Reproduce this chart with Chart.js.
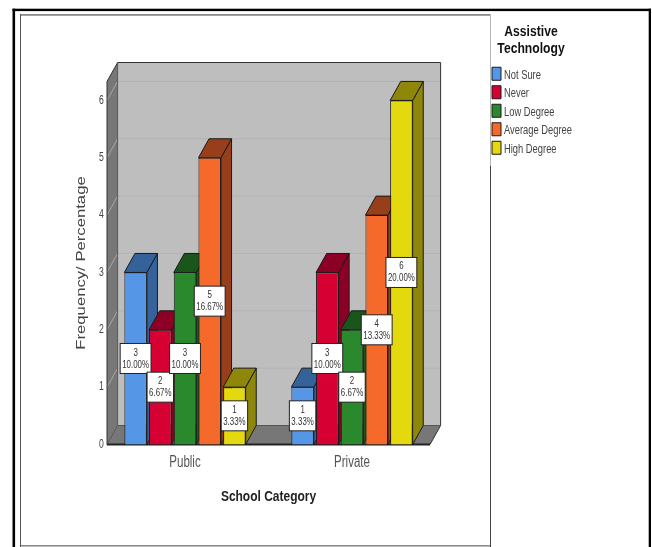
<!DOCTYPE html>
<html>
<head>
<meta charset="utf-8">
<style>html,body{margin:0;padding:0;background:#fff;overflow:hidden}canvas{display:block}</style>
<script src="https://cdn.jsdelivr.net/npm/chart.js@4"></script>
</head>
<body>
<canvas id="c" width="652" height="547"></canvas>
<script>
const categories = ['Public', 'Private'];
const seriesNames = ['Not Sure', 'Never', 'Low Degree', 'Average Degree', 'High Degree'];
const notSure = [3, 1];
const never = [2, 3];
const lowDegree = [3, 2];
const averageDegree = [5, 4];
const highDegree = [1, 6];
const notSurePct = ['10.00%', '3.33%'];
const neverPct = ['6.67%', '10.00%'];
const lowDegreePct = ['10.00%', '6.67%'];
const averageDegreePct = ['16.67%', '13.33%'];
const highDegreePct = ['3.33%', '20.00%'];
const frontColors = ['#5596E6', '#D70033', '#2A892D', '#F56A2A', '#E4D90F'];
const sideColors = ['#35629A', '#8B0024', '#1A551C', '#973F1A', '#8E870A'];
const yTicks = [0, 1, 2, 3, 4, 5, 6];
const yTitle = 'Frequency/ Percentage';
const xTitle = 'School Category';
const legendTitle = ['Assistive', 'Technology'];

const seriesValues = [notSure, never, lowDegree, averageDegree, highDegree];
const seriesPct = [notSurePct, neverPct, lowDegreePct, averageDegreePct, highDegreePct];
const FONT = '"Liberation Sans",sans-serif';
const DX = 10.6, DY = -19;
const WALL_L = 107, WALL_R = 430, WALL_TOP_VALUE = 6.33;
const NARROW = 0.72;

// The reference's text is squeezed horizontally: no condensed face is installed, so scale it.
const canvas = document.getElementById('c');
const rawCtx = canvas.getContext('2d');
const origFillText = rawCtx.fillText.bind(rawCtx);
rawCtx.fillText = function (text, x, y) {
  let k = NARROW;
  if (text === yTitle) k = 1.39;
  else if (text === xTitle) k = 0.856;
  else if (legendTitle.includes(text)) k = 0.81;
  if (seriesNames.includes(text)) { x -= 3.5; y += 1.5; }
  this.save();
  this.translate(x, y);
  this.scale(k, 1);
  origFillText(text, 0, 0);
  this.restore();
};

function poly(ctx, pts, fill, stroke, lw) {
  ctx.beginPath();
  pts.forEach((p, i) => i ? ctx.lineTo(p[0], p[1]) : ctx.moveTo(p[0], p[1]));
  ctx.closePath();
  if (fill) { ctx.fillStyle = fill; ctx.fill(); }
  if (stroke) { ctx.strokeStyle = stroke; ctx.lineWidth = lw || 1; ctx.stroke(); }
}

const frame = {
  id: 'frame',
  beforeDraw(chart) {
    const c = chart.ctx;
    c.save();
    c.fillStyle = '#fff'; c.fillRect(0, 0, 652, 547);
    c.fillStyle = '#000';
    c.fillRect(12.5, 8.7, 2.6, 538.3);
    c.fillRect(12.5, 8.7, 638.5, 2.4);
    c.fillRect(648.7, 8.7, 2.3, 538.3);
    c.fillStyle = '#8c8c8c';
    c.fillRect(20, 14, 471, 1.8);
    c.fillRect(20, 545, 471, 1.6);
    c.fillStyle = '#555';
    c.fillRect(20, 14, 1, 533);
    c.fillStyle = '#b4b4b4';
    c.fillRect(490, 14, 1, 152);
    c.fillStyle = '#444';
    c.fillRect(490, 166, 1, 381);
    c.restore();
  }
};

const bars3d = {
  id: 'bars3d',
  beforeDatasetsDraw(chart) {
    const c = chart.ctx, y = chart.scales.y;
    const y0 = y.getPixelForValue(0), yT = y.getPixelForValue(WALL_TOP_VALUE);
    c.save();
    poly(c, [[WALL_L + DX, y0 + DY], [WALL_R + DX, y0 + DY], [WALL_R + DX, yT + DY], [WALL_L + DX, yT + DY]], '#BEBEBE');
    poly(c, [[WALL_L, y0], [WALL_L + DX, y0 + DY], [WALL_L + DX, yT + DY], [WALL_L, yT]], '#777777');
    poly(c, [[WALL_L, y0], [WALL_R, y0], [WALL_R + DX, y0 + DY], [WALL_L + DX, y0 + DY]], '#777777');
    yTicks.slice(1).forEach(v => {
      const p = y.getPixelForValue(v);
      c.strokeStyle = '#B3B3B3'; c.lineWidth = 1;
      c.beginPath(); c.moveTo(WALL_L + DX, p + DY); c.lineTo(WALL_R + DX, p + DY); c.stroke();
      c.strokeStyle = '#A8A8A8';
      c.beginPath(); c.moveTo(WALL_L, p); c.lineTo(WALL_L + DX, p + DY); c.stroke();
    });
    c.strokeStyle = '#333'; c.lineWidth = 1;
    c.beginPath();
    c.moveTo(WALL_L, yT); c.lineTo(WALL_L + DX, yT + DY); c.lineTo(WALL_R + DX, yT + DY);
    c.lineTo(WALL_R + DX, y0 + DY); c.lineTo(WALL_R, y0);
    c.moveTo(WALL_L, yT); c.lineTo(WALL_L, y0);
    c.stroke();
    c.strokeStyle = '#555';
    c.beginPath();
    c.moveTo(WALL_L + DX, yT + DY); c.lineTo(WALL_L + DX, y0 + DY); c.lineTo(WALL_R + DX, y0 + DY);
    c.moveTo(WALL_L + DX, y0 + DY); c.lineTo(WALL_L, y0);
    c.stroke();
    c.fillStyle = '#222'; c.fillRect(WALL_L, y0 - 1, WALL_R - WALL_L, 2);

    chart.data.datasets.forEach((ds, i) => {
      chart.getDatasetMeta(i).data.forEach(el => {
        const l = el.x - el.width / 2, r = el.x + el.width / 2, t = el.y, b = el.base;
        poly(c, [[r, b], [r + DX, b + DY], [r + DX, t + DY], [r, t]], sideColors[i], '#1a1a1a', 1);
        poly(c, [[l, t], [r, t], [r + DX, t + DY], [l + DX, t + DY]], sideColors[i], '#1a1a1a', 1);
        el.draw(c);
      });
    });
    c.restore();
    return false;
  },
  afterDraw(chart) {
    const c = chart.ctx, y = chart.scales.y;
    c.save();
    c.font = '11px ' + FONT;
    c.textAlign = 'center';
    c.textBaseline = 'middle';
    chart.data.datasets.forEach((ds, i) => {
      chart.getDatasetMeta(i).data.forEach((el, j) => {
        const v = seriesValues[i][j], pct = seriesPct[i][j];
        const cy = y.getPixelForValue(v / 2);
        const w = c.measureText(pct).width * NARROW + 4;
        const h = 30;
        c.fillStyle = '#fff';
        c.strokeStyle = '#222';
        c.lineWidth = 1;
        c.fillRect(el.x - w / 2, cy - h / 2, w, h);
        c.strokeRect(el.x - w / 2, cy - h / 2, w, h);
        c.fillStyle = '#333';
        c.fillText(String(v), el.x, cy - 6);
        c.fillText(pct, el.x, cy + 6);
      });
    });
    c.restore();
  }
};

const placeLegend = {
  id: 'placeLegend',
  afterLayout(chart) {
    const l = chart.legend;
    const h = l.height;
    l.width = 89;
    l.left = 486.5; l.top = 24.5; l.right = l.left + l.width; l.bottom = l.top + h;
    l.columnSizes[0].width = 89;
  }
};

new Chart(canvas, {
  type: 'bar',
  data: {
    labels: categories,
    datasets: seriesNames.map((name, i) => ({
      label: name,
      data: seriesValues[i],
      backgroundColor: frontColors[i],
      borderColor: '#1a1a1a',
      borderWidth: 1,
      categoryPercentage: 0.7395,
      barPercentage: 0.911
    }))
  },
  plugins: [frame, placeLegend, bars3d],
  options: {
    responsive: false,
    animation: false,
    layout: { padding: { left: 73, top: 81.5, right: 216.5, bottom: 41 } },
    scales: {
      x: {
        grid: { display: false, drawTicks: false },
        border: { display: false },
        afterFit(s) { s.height = 61.5; },
        ticks: { color: '#555', padding: 8, maxRotation: 0, font: { family: FONT, size: 16 } },
        title: { display: true, text: xTitle, color: '#222', padding: 0,
          font: { family: FONT, size: 14, weight: 'bold', lineHeight: 1.2 } }
      },
      y: {
        min: 0, max: WALL_TOP_VALUE,
        grid: { display: false, drawTicks: false },
        border: { display: false },
        afterBuildTicks(s) { s.ticks = yTicks.map(v => ({ value: v })); },
        afterFit(s) { s.width = 28.5; },
        ticks: { stepSize: 1, color: '#444', mirror: true, padding: -2.5, font: { family: FONT, size: 12 } },
        title: { display: true, text: yTitle, color: '#444', padding: 0,
          font: { family: FONT, size: 12, lineHeight: 1.4 } }
      }
    },
    plugins: {
      tooltip: { enabled: false },
      legend: {
        position: 'chartArea',
        align: 'start',
        title: { display: true, text: legendTitle, color: '#111',
          padding: { top: 0, bottom: 20 },
          font: { family: FONT, size: 15, weight: 'bold', lineHeight: 1.15 } },
        labels: { boxWidth: 9, boxHeight: 13, padding: 5.5, color: '#444',
          font: { family: FONT, size: 13 } }
      }
    }
  }
});
</script>
</body>
</html>
